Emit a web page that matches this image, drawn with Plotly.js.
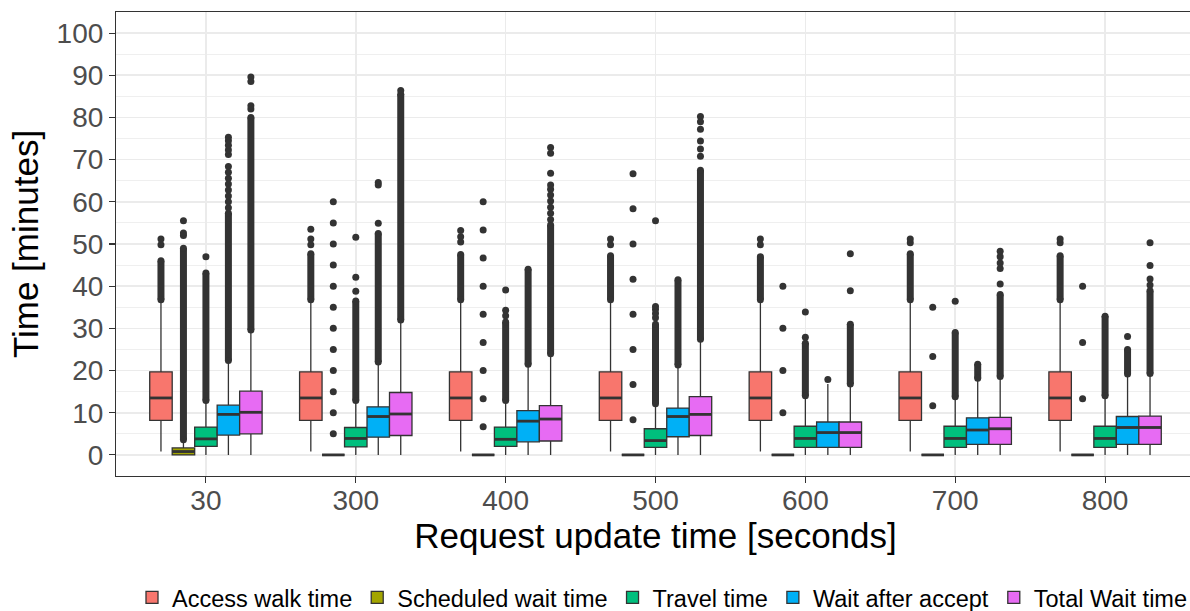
<!DOCTYPE html>
<html>
<head>
<meta charset="utf-8">
<script src="https://cdn.plot.ly/plotly-3.0.1.min.js"></script>
<style>
html, body { margin: 0; padding: 0; overflow: hidden; background: #fff; }
#chart { width: 1200px; height: 611px; }
</style>
</head>
<body>
<div id="chart"></div>
<script>
// ---- Data ----
const categories = ['30', '300', '400', '500', '600', '700', '800'];
const seriesNames = ['Access walk time', 'Scheduled wait time', 'Travel time', 'Wait after accept', 'Total Wait time'];
const seriesColors = ['#F8766D', '#A3A500', '#00BF7D', '#00B0F6', '#E76BF3'];

// Access walk time
const accessQ1 = [8.2, 8.2, 8.2, 8.2, 8.2, 8.2, 8.2];
const accessMed = [13.5, 13.5, 13.5, 13.5, 13.5, 13.5, 13.5];
const accessQ3 = [19.7, 19.7, 19.7, 19.7, 19.7, 19.7, 19.7];
const accessLo = [0.8, 0.8, 0.8, 0.8, 0.8, 0.8, 0.8];
const accessHi = [36.2, 36.2, 36.2, 36.2, 36.2, 36.2, 36.2];
const accessDenseLo = [36.8, 36.8, 36.8, 36.8, 36.8, 36.8, 36.8];
const accessDenseHi = [46.0, 47.7, 47.5, 47.2, 47.0, 47.7, 47.2];
const accessOut = [[49.8, 51.2], [49.8, 51.2, 53.5], [50.5, 51.7, 53.2], [49.8, 51.2], [49.8, 51.2], [50.3, 51.2], [50.3, 51.2]];

// Scheduled wait time
const schedQ1 = [0, 0, 0, 0, 0, 0, 0];
const schedMed = [0.8, 0, 0, 0, 0, 0, 0];
const schedQ3 = [1.65, 0, 0, 0, 0, 0, 0];
const schedLo = [0, 0, 0, 0, 0, 0, 0];
const schedHi = [3.2, 0, 0, 0, 0, 0, 0];
const schedDenseLo = [3.6, null, null, null, null, null, null];
const schedDenseHi = [49.0, null, null, null, null, null, null];
const schedOut = [
  [52.0, 52.6, 55.5],
  [5, 10, 15, 20, 25, 30, 35, 40, 45, 50, 55, 60],
  [6.67, 13.33, 20, 26.67, 33.33, 40, 46.67, 53.33, 60],
  [8.33, 16.67, 25, 33.33, 41.67, 50, 58.33, 66.67],
  [10, 20, 30, 40],
  [11.67, 23.33, 35],
  [13.33, 26.67, 40]
];

// Travel time
const travelQ1 = [2.0, 1.9, 2.0, 1.8, 1.8, 1.8, 1.8];
const travelMed = [3.8, 3.9, 3.7, 3.4, 3.9, 3.9, 3.9];
const travelQ3 = [6.6, 6.5, 6.6, 6.2, 6.8, 6.8, 6.8];
const travelLo = [0, 0, 0, 0, 0, 0, 0];
const travelHi = [12.6, 12.6, 12.6, 11.7, 13.6, 13.4, 13.6];
const travelDenseLo = [12.9, 12.9, 12.9, 12.1, 14.0, 13.8, 14.0];
const travelDenseHi = [43.1, 36.5, 31.5, 31.0, 26.5, 29.0, 32.9];
const travelOut = [[47.0], [38.8, 42.1, 51.6], [33.0, 34.3, 39.1], [32.5, 33.5, 34.5, 35.2, 55.5], [27.9, 33.9], [36.4], []];

// Wait after accept
const waitQ1 = [4.7, 4.2, 3.1, 4.3, 1.8, 2.5, 2.5];
const waitMed = [9.6, 9.1, 8.0, 9.1, 5.3, 5.9, 6.5];
const waitQ3 = [11.8, 11.4, 10.5, 11.1, 7.8, 8.8, 9.1];
const waitLo = [0, 0, 0, 0, 0, 0, 0];
const waitHi = [22.0, 21.4, 20.9, 20.8, 16.8, 17.7, 18.6];
const waitDenseLo = [22.4, 22.0, 21.5, 21.3, null, 18.2, 19.2];
const waitDenseHi = [57.3, 52.5, 44.0, 41.5, null, 21.5, 25.0];
const waitOut = [
  [58.6, 60.0, 61.4, 62.8, 64.2, 65.6, 67.0, 68.4, 71.2, 72.3, 73.4, 74.5, 75.3],
  [54.9, 64.0, 64.6],
  [],
  [],
  [17.9],
  [],
  [28.1]
];

// Total Wait time
const totalQ1 = [5.0, 4.6, 3.3, 4.6, 1.8, 2.5, 2.5];
const totalMed = [10.1, 9.7, 8.5, 9.6, 5.3, 6.2, 6.5];
const totalQ3 = [15.1, 14.8, 11.7, 13.8, 7.8, 8.9, 9.2];
const totalLo = [0, 0, 0, 0, 0, 0, 0];
const totalHi = [29.2, 31.5, 23.5, 26.9, 16.3, 18.2, 18.9];
const totalDenseLo = [29.6, 32.0, 24.0, 27.4, 16.8, 18.6, 19.3];
const totalDenseHi = [80.0, 85.5, 54.5, 67.5, 31.0, 38.0, 38.9];
const totalOut = [
  [82.0, 82.8, 88.5, 89.6],
  [86.4],
  [55.8, 57.3, 58.7, 60.2, 61.6, 63.0, 64.0, 66.8, 71.5, 72.9],
  [70.8, 72.5, 74.4, 77.2, 79.0, 80.2],
  [38.9, 47.7],
  [40.5, 44.2, 45.5, 47.0, 48.3],
  [40.3, 41.7, 44.9, 50.3]
];

// ---- Assemble ----
const stats = [
  {q1: accessQ1, med: accessMed, q3: accessQ3, lo: accessLo, hi: accessHi, dLo: accessDenseLo, dHi: accessDenseHi, out: accessOut},
  {q1: schedQ1, med: schedMed, q3: schedQ3, lo: schedLo, hi: schedHi, dLo: schedDenseLo, dHi: schedDenseHi, out: schedOut},
  {q1: travelQ1, med: travelMed, q3: travelQ3, lo: travelLo, hi: travelHi, dLo: travelDenseLo, dHi: travelDenseHi, out: travelOut},
  {q1: waitQ1, med: waitMed, q3: waitQ3, lo: waitLo, hi: waitHi, dLo: waitDenseLo, dHi: waitDenseHi, out: waitOut},
  {q1: totalQ1, med: totalMed, q3: totalQ3, lo: totalLo, hi: totalHi, dLo: totalDenseLo, dHi: totalDenseHi, out: totalOut}
];

const nSeries = seriesNames.length;
const dodge = 0.75;
const boxW = dodge / nSeries;
const ink = '#333333';
const outlierSize = 7;

const boxTraces = [];
const overlayTraces = [];

stats.forEach((s, j) => {
  const pos = categories.map((c, i) => i + 1 + (j - (nSeries - 1) / 2) * boxW);
  boxTraces.push({
    type: 'box',
    name: seriesNames[j],
    x: pos,
    q1: s.q1, median: s.med, q3: s.q3,
    lowerfence: s.lo, upperfence: s.hi,
    width: boxW,
    whiskerwidth: 0,
    boxpoints: false,
    fillcolor: seriesColors[j],
    line: {color: ink, width: 1.3},
    hoverinfo: 'skip',
    showlegend: true
  });
  // thick median line (ggplot fatten)
  const mx = [], my = [];
  pos.forEach((p, i) => { mx.push(p - boxW / 2, p + boxW / 2, null); my.push(s.med[i], s.med[i], null); });
  overlayTraces.push({
    type: 'scatter', mode: 'lines', x: mx, y: my,
    line: {color: ink, width: 2.8}, showlegend: false, hoverinfo: 'skip'
  });
  // dense outlier runs
  const dx = [], dy = [];
  pos.forEach((p, i) => {
    if (s.dLo[i] !== null && s.dHi[i] !== null) { dx.push(p, p, null); dy.push(s.dLo[i], s.dHi[i], null); }
  });
  overlayTraces.push({
    type: 'scatter', mode: 'lines+markers', x: dx, y: dy,
    line: {color: ink, width: outlierSize},
    marker: {color: ink, size: outlierSize},
    showlegend: false, hoverinfo: 'skip'
  });
  // individual outliers
  const ox = [], oy = [];
  pos.forEach((p, i) => { s.out[i].forEach(v => { ox.push(p); oy.push(v); }); });
  overlayTraces.push({
    type: 'scatter', mode: 'markers', x: ox, y: oy,
    marker: {color: ink, size: outlierSize},
    showlegend: false, hoverinfo: 'skip'
  });
});

const layout = {
  width: 1200,
  height: 611,
  margin: {l: 116, r: 5, t: 12, b: 135, autoexpand: false},
  paper_bgcolor: '#ffffff',
  plot_bgcolor: '#ffffff',
  font: {family: '"Liberation Sans", Arial, sans-serif', color: '#000000'},
  showlegend: true,
  legend: {
    orientation: 'h',
    xref: 'container', yref: 'container',
    x: 0.11, xanchor: 'left',
    y: 0.022, yanchor: 'middle',
    font: {size: 23.5, color: '#000000'},
    bgcolor: 'rgba(0,0,0,0)',
    itemclick: false, itemdoubleclick: false
  },
  xaxis: {
    range: [0.4, 7.6],
    automargin: false,
    tickmode: 'array',
    tickvals: categories.map((c, i) => i + 1),
    ticktext: categories,
    showgrid: true, gridcolor: '#ebebeb', gridwidth: 1.6,
    zeroline: false,
    showline: true, linecolor: ink, linewidth: 1.1, mirror: true,
    ticks: 'outside', ticklen: 6, tickwidth: 1.1, tickcolor: ink,
    ticklabelstandoff: -7,
    tickfont: {size: 28, color: '#4d4d4d'},
    title: {text: 'Request update time [seconds]', font: {size: 35, color: '#000000'}, standoff: 0}
  },
  yaxis: {
    range: [-5, 105],
    automargin: false,
    tickmode: 'linear', tick0: 0, dtick: 10,
    showgrid: true, gridcolor: '#ebebeb', gridwidth: 1.6,
    minor: {dtick: 5, tick0: 0, showgrid: true, gridcolor: '#ebebeb', gridwidth: 0.8, ticks: ''},
    zeroline: false,
    showline: true, linecolor: ink, linewidth: 1.1, mirror: true,
    ticks: 'outside', ticklen: 6, tickwidth: 1.1, tickcolor: ink,
    tickfont: {size: 28, color: '#4d4d4d'},
    title: {text: 'Time [minutes]', font: {size: 35, color: '#000000'}, standoff: 7}
  }
};

Plotly.newPlot('chart', boxTraces.concat(overlayTraces), layout, {displayModeBar: false, staticPlot: true});
</script>
</body>
</html>
